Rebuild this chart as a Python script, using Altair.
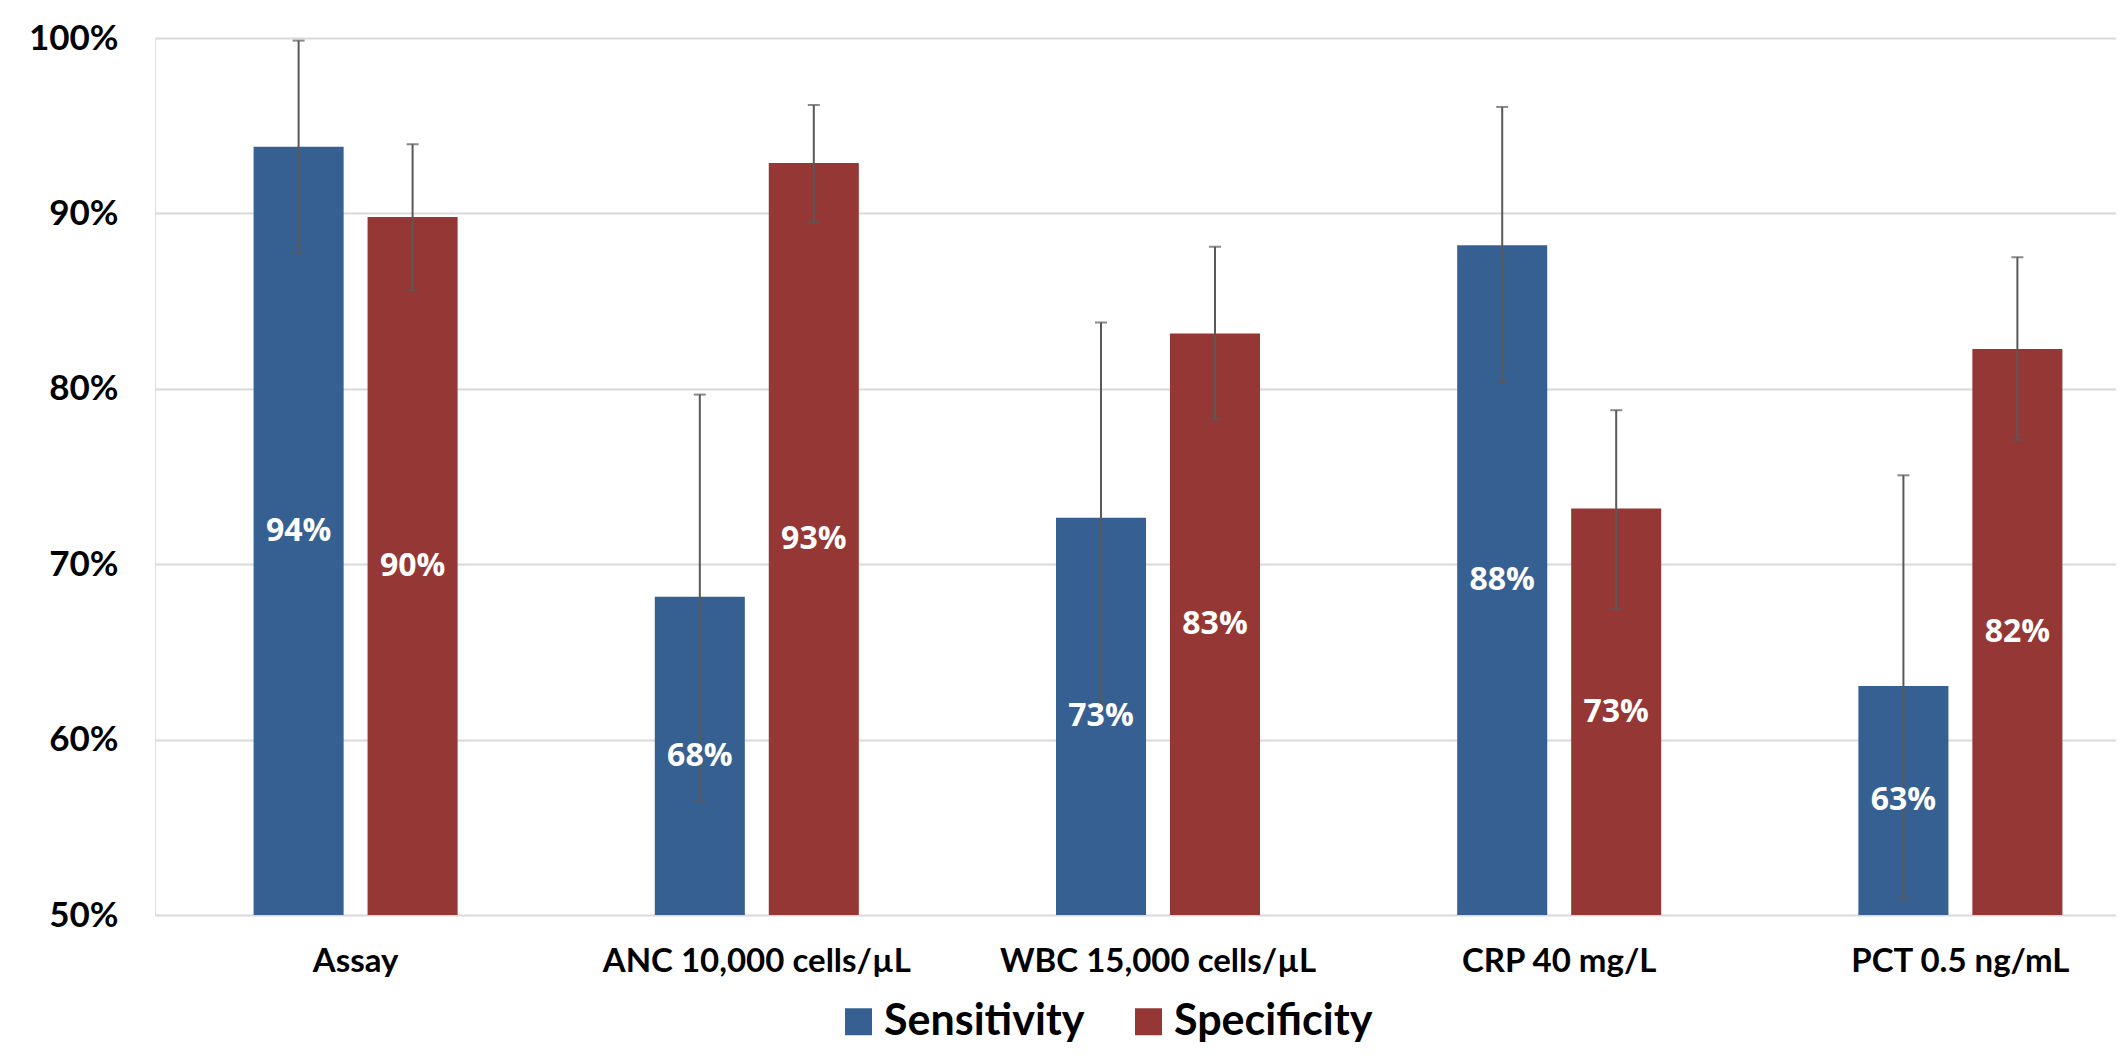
import altair as alt
import pandas as pd

categories = ["Assay", "ANC 10,000 cells/µL", "WBC 15,000 cells/µL", "CRP 40 mg/L", "PCT 0.5 ng/mL"]
measures = ["Sensitivity", "Specificity"]
colors = ["#376092", "#953735"]

sensitivity = [0.938, 0.6815, 0.7265, 0.8818, 0.6306]
sens_lo = [0.878, 0.5655, 0.620, 0.8033, 0.5097]
sens_hi = [0.9985, 0.7967, 0.8378, 0.9607, 0.7507]

specificity = [0.898, 0.9287, 0.8315, 0.7317, 0.8227]
spec_lo = [0.856, 0.8947, 0.7826, 0.6747, 0.7709]
spec_hi = [0.9394, 0.9618, 0.881, 0.7878, 0.875]

y_ticks = [0.5, 0.6, 0.7, 0.8, 0.9, 1.0]

rows = []
for i, c in enumerate(categories):
    rows.append({"Category": c, "Measure": "Sensitivity", "Value": sensitivity[i],
                 "Lo": sens_lo[i], "Hi": sens_hi[i]})
    rows.append({"Category": c, "Measure": "Specificity", "Value": specificity[i],
                 "Lo": spec_lo[i], "Hi": spec_hi[i]})
df = pd.DataFrame(rows)

yscale = alt.Scale(domain=[0.5, 1.0], zero=False, nice=False)

base = alt.Chart(df).encode(
    x=alt.X("Category:N", sort=categories,
            scale=alt.Scale(range=[0, 2006], paddingInner=0, paddingOuter=0),
            axis=alt.Axis(title=None, labelAngle=0, labelFont="Lato", labelFontWeight="bold",
                          labelFontSize=33, labelColor="black", labelPadding=30,
                          labelLimit=0, ticks=False, domain=False, grid=False)),
    xOffset=alt.XOffset("Measure:N", sort=measures,
                        scale=alt.Scale(paddingInner=0.21, paddingOuter=0.865)),
)

bars = base.mark_bar().encode(
    y=alt.Y("Value:Q", scale=yscale,
            axis=alt.Axis(title=None, values=y_ticks, format=".0%", labelFont="Lato",
                          labelFontWeight="bold", labelFontSize=35, labelColor="black",
                          labelPadding=37, ticks=False, domain=False, grid=True,
                          gridColor="#d9d9d9", gridWidth=2)),
    y2=alt.datum(0.5),
    color=alt.Color("Measure:N", sort=measures,
                    scale=alt.Scale(domain=measures, range=colors),
                    legend=alt.Legend(orient="none", legendX=682, legendY=962,
                                      direction="horizontal", title=None,
                                      symbolType="square", symbolSize=729,
                                      symbolStrokeWidth=0, labelFont="Lato",
                                      labelFontWeight="bold", labelFontSize=43,
                                      labelColor="black", labelOffset=4,
                                      labelLimit=0, columnPadding=42, padding=0)),
)

rules = base.mark_rule(color="#595959", strokeWidth=2).encode(
    y=alt.Y("Lo:Q", scale=yscale), y2="Hi:Q")
cap_lo = base.mark_tick(color="#595959", thickness=2, size=12).encode(
    y=alt.Y("Lo:Q", scale=yscale))
cap_hi = base.mark_tick(color="#595959", thickness=2, size=12).encode(
    y=alt.Y("Hi:Q", scale=yscale))

labels = base.transform_calculate(Mid="(datum.Value + 0.5) / 2").mark_text(
    font="Open Sans", fontWeight="bold", fontSize=32, color="white", baseline="middle"
).encode(y=alt.Y("Mid:Q", scale=yscale), text=alt.Text("Value:Q", format=".0%"))

chart = alt.layer(bars, rules, cap_lo, cap_hi, labels).properties(
    width=1961, height=877,
    padding={"left": 147, "top": 30, "right": 0, "bottom": 134},
    autosize=alt.AutoSizeParams(type="none"),
).configure_view(stroke=None).configure(background="white")

chart.save("out.html", embed_options={"renderer": "svg", "actions": False})
